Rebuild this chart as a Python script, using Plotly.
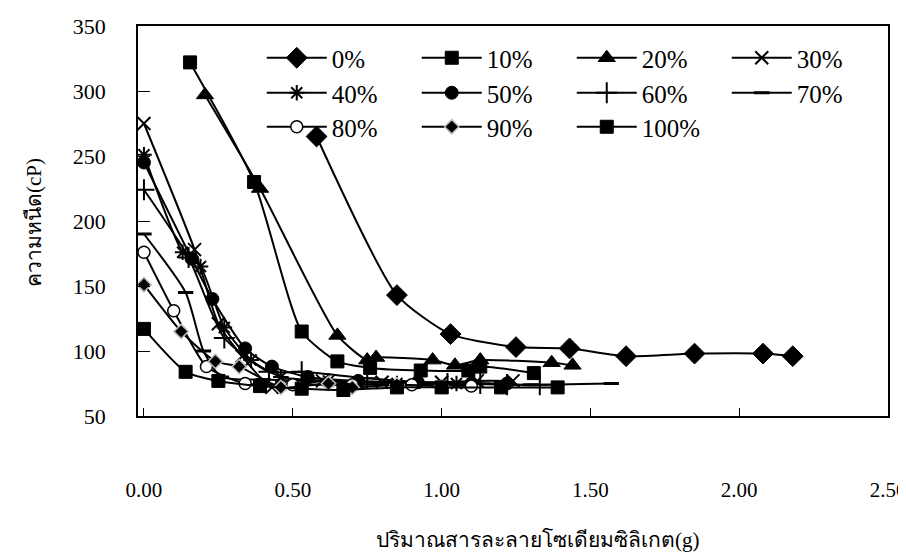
import plotly.graph_objects as go

# ---- data ----
names = ["0%", "10%", "20%", "30%", "40%", "50%", "60%", "70%", "80%", "90%", "100%"]

x0 = [0.58, 0.85, 1.03, 1.25, 1.43, 1.62, 1.85, 2.08, 2.18]
y0 = [265, 143, 113, 103, 102, 96, 98, 98, 96]

x10 = [0.155, 0.37, 0.53, 0.65, 0.76, 0.93, 1.09, 1.13, 1.31]
y10 = [322, 230, 115, 92, 87, 85, 85, 88, 83]

x20 = [0.205, 0.39, 0.65, 0.75, 0.78, 0.97, 1.045, 1.13, 1.37, 1.44]
y20 = [297, 225, 112, 93, 95, 93, 89, 93, 91, 89]

x30 = [0, 0.17, 0.25, 0.33, 0.43, 0.6, 0.8, 1.0, 1.12, 1.24]
y30 = [275, 178, 121, 96, 72, 77, 76, 76, 77, 77]

x40 = [0, 0.13, 0.19, 0.27, 0.36, 0.46, 0.62, 0.85, 1.05]
y40 = [251, 176, 165, 118, 93, 80, 77, 75, 75]

x50 = [0, 0.16, 0.23, 0.34, 0.43, 0.55, 0.72, 0.92, 1.1, 1.22]
y50 = [245, 171, 140, 102, 88, 80, 77, 76, 75, 75]

x60 = [0, 0.15, 0.27, 0.42, 0.53, 0.75, 1.02, 1.13, 1.22, 1.33]
y60 = [224, 172, 110, 84, 84, 79, 75, 75, 74, 74]

x70 = [0, 0.14, 0.2, 0.26, 0.4, 0.7, 1.0, 1.3, 1.57]
y70 = [190, 145, 100, 80, 78, 76, 75, 74, 75]

x80 = [0, 0.10, 0.21, 0.34, 0.5, 0.7, 0.9, 1.1]
y80 = [176, 131, 88, 75, 74, 74, 74, 73]

x90 = [0, 0.125, 0.24, 0.32, 0.46, 0.62, 0.70, 0.85, 1.0]
y90 = [151, 115, 92, 88, 72, 75, 72, 74, 73]

x100 = [0, 0.14, 0.25, 0.39, 0.53, 0.67, 0.85, 1.0, 1.2, 1.39]
y100 = [117, 84, 77, 73, 71, 70, 72, 72, 72, 72]

x_ticks = [0, 0.5, 1.0, 1.5, 2.0, 2.5]
x_tick_text = ["0.00", "0.50", "1.00", "1.50", "2.00", "2.50"]
y_ticks = [50, 100, 150, 200, 250, 300, 350]

x_title = "ปริมาณสารละลายโซเดียมซิลิเกต(g)"
y_title = "ความหนืด(cP)"

series_x = [x0, x10, x20, x30, x40, x50, x60, x70, x80, x90, x100]
series_y = [y0, y10, y20, y30, y40, y50, y60, y70, y80, y90, y100]

# marker styles
styles = [
    dict(symbol="diamond", size=16, color="black", line=dict(color="black", width=1)),
    dict(symbol="square", size=13, color="black", line=dict(color="black", width=1)),
    dict(symbol="triangle-up", size=15, color="black", line=dict(color="black", width=1)),
    dict(symbol="x-thin-open", size=13, color="black", line=dict(color="black", width=2)),
    dict(symbol="asterisk-open", size=13, color="black", line=dict(color="black", width=2)),
    dict(symbol="circle", size=13, color="black", line=dict(color="black", width=1)),
    dict(symbol="cross-thin-open", size=15, color="black", line=dict(color="black", width=2)),
    dict(symbol="line-ew-open", size=11, color="black", line=dict(color="black", width=3)),
    dict(symbol="circle", size=12, color="white", line=dict(color="black", width=1.5)),
    dict(symbol="diamond", size=11, color="black", line=dict(color="#bbbbbb", width=1.5)),
    dict(symbol="square", size=13, color="black", line=dict(color="black", width=1)),
]
legend_of = ["legend"] * 4 + ["legend2"] * 4 + ["legend3"] * 3

FONT = "Liberation Serif, Times New Roman, serif"

fig = go.Figure()
for n, xs, ys, st, lg in zip(names, series_x, series_y, styles, legend_of):
    fig.add_trace(go.Scatter(
        x=xs, y=ys, name=n, mode="lines+markers",
        line=dict(color="black", width=2, shape="spline", smoothing=0.6),
        marker=st, legend=lg,
    ))

leg_common = dict(
    orientation="h", xanchor="left", yanchor="middle",
    font=dict(family=FONT, size=25, color="black"),
    bgcolor="rgba(0,0,0,0)", entrywidth=80, entrywidthmode="pixels",
    itemwidth=60, traceorder="normal",
)
PT, PB = 18, 408
H = PB - PT

def py(p):
    return (PB - p) / H

LX = 0.165
fig.update_layout(
    width=906, height=555,
    margin=dict(l=130, r=26, t=PT, b=555 - PB, autoexpand=False),
    paper_bgcolor="white", plot_bgcolor="white",
    font=dict(family=FONT, size=22, color="black"),
    legend=dict(x=LX, y=py(50), **leg_common),
    legend2=dict(x=LX, y=py(85), **leg_common),
    legend3=dict(x=LX, y=py(119), **leg_common),
    xaxis=dict(
        range=[-0.02, 2.5], tickvals=x_ticks, ticktext=x_tick_text,
        showline=True, linecolor="black", linewidth=1.5, mirror=True,
        ticks="inside", ticklen=8, tickcolor="black", tickwidth=1,
        showgrid=False, zeroline=False,
        tickfont=dict(family=FONT, size=21), ticklabelstandoff=54,
    ),
    yaxis=dict(
        range=[50, 350], tickvals=y_ticks,
        showline=True, linecolor="black", linewidth=1.5, mirror=True,
        ticks="inside", ticklen=12, tickcolor="black", tickwidth=1,
        showgrid=False, zeroline=False,
        tickfont=dict(family=FONT, size=22), ticklabelstandoff=26,
    ),
    annotations=[
        dict(text=x_title, xref="paper", yref="paper",
             x=(530 - 130) / 750, y=py(532), showarrow=False,
             xanchor="center", yanchor="middle",
             font=dict(family=FONT, size=21)),
        dict(text=y_title, xref="paper", yref="paper",
             x=(26 - 130) / 750, y=py(215), showarrow=False, textangle=-90,
             xanchor="center", yanchor="middle",
             font=dict(family=FONT, size=21)),
    ],
)

fig.write_html("out.html")
